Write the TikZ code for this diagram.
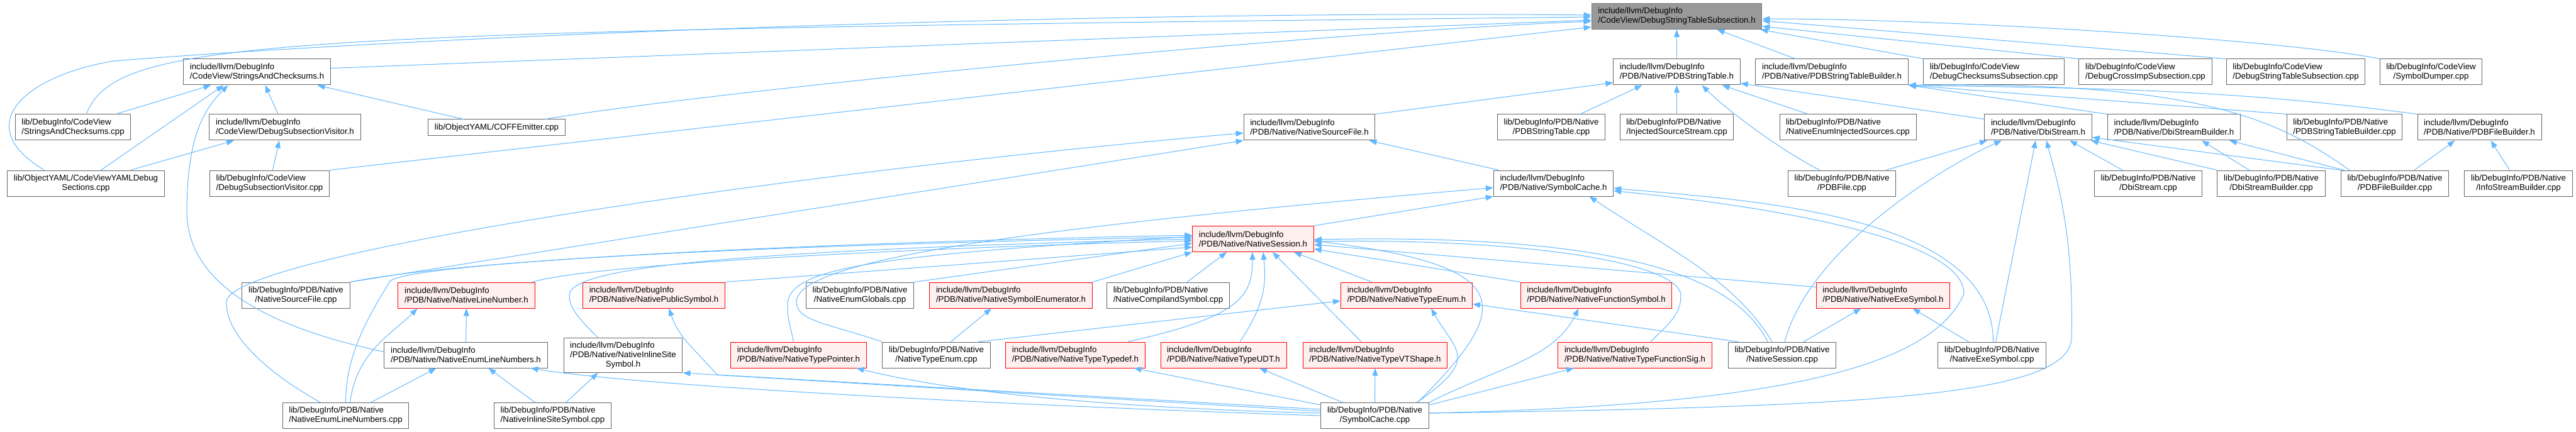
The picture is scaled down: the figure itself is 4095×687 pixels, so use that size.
\documentclass[tikz,border=0pt]{standalone}
\usepackage{fontspec}
\setmainfont{Liberation Sans}
\usepackage{xcolor}
\usepackage{tikz}
\usetikzlibrary{arrows.meta}
\definecolor{edgeblue}{RGB}{99,184,255}
\definecolor{framegray}{RGB}{102,102,102}
\definecolor{rootgray}{RGB}{153,153,153}
\definecolor{truncred}{RGB}{255,0,0}
\definecolor{truncfill}{RGB}{255,240,240}
\newsavebox\flabA
\newsavebox\flabB
\newcommand\flab[2]{\sbox\flabA{#1}\sbox\flabB{#2}\ifdim\wd\flabA<\wd\flabB\makebox[\wd\flabB][l]{#1}\else#1\fi\\#2}

\begin{document}
\begin{tikzpicture}[x=1pt, y=1pt, every node/.style={font=\fontsize{13.3}{15}\selectfont}]
  \tikzstyle{file}=[rectangle, draw=framegray, fill=white, line width=1pt, inner xsep=10.2pt, inner ysep=6.3pt, minimum height=41pt, align=center]
  \tikzstyle{trunc}=[file, draw=truncred, fill=truncfill]
  \tikzstyle{root}=[file, fill=rootgray, draw=rootgray!80!black]
  \tikzstyle{incl}=[draw=edgeblue, line width=1pt, -{Triangle[length=12pt,width=9pt]}]
  \useasboundingbox (0,0) rectangle (4095,-687);

  \node[root] (top) at (2665.5,-26) {\flab{include/llvm/DebugInfo}{/CodeView/DebugStringTableSubsection.h}};

  \node[file] (sach) at (408.5,-114.5) {\flab{include/llvm/DebugInfo}{/CodeView/StringsAndChecksums.h}};
  \node[file] (pst) at (2665.5,-114.5) {\flab{include/llvm/DebugInfo}{/PDB/Native/PDBStringTable.h}};
  \node[file] (pstb) at (2912,-114.5) {\flab{include/llvm/DebugInfo}{/PDB/Native/PDBStringTableBuilder.h}};
  \node[file] (dcs) at (3169.5,-114.5) {\flab{lib/DebugInfo/CodeView}{/DebugChecksumsSubsection.cpp}};
  \node[file] (dcis) at (3410.5,-114.5) {\flab{lib/DebugInfo/CodeView}{/DebugCrossImpSubsection.cpp}};
  \node[file] (dsts) at (3649.5,-114.5) {\flab{lib/DebugInfo/CodeView}{/DebugStringTableSubsection.cpp}};
  \node[file] (symdump) at (3864.5,-114.5) {\flab{lib/DebugInfo/CodeView}{/SymbolDumper.cpp}};

  \node[file] (saccpp) at (116,-202.5) {\flab{lib/DebugInfo/CodeView}{/StringsAndChecksums.cpp}};
  \node[file] (dsvh) at (453,-202.5) {\flab{include/llvm/DebugInfo}{/CodeView/DebugSubsectionVisitor.h}};
  \node[file, minimum height=26pt] (coff) at (789.5,-203) {lib/ObjectYAML/COFFEmitter.cpp};
  \node[file] (nsfh) at (2081.5,-202.5) {\flab{include/llvm/DebugInfo}{/PDB/Native/NativeSourceFile.h}};
  \node[file] (pstcpp) at (2466,-202.5) {\flab{lib/DebugInfo/PDB/Native}{/PDBStringTable.cpp}};
  \node[file] (iss) at (2665.5,-202.5) {\flab{lib/DebugInfo/PDB/Native}{/InjectedSourceStream.cpp}};
  \node[file] (neis) at (2937.5,-202.5) {\flab{lib/DebugInfo/PDB/Native}{/NativeEnumInjectedSources.cpp}};
  \node[file] (dbih) at (3240,-202.5) {\flab{include/llvm/DebugInfo}{/PDB/Native/DbiStream.h}};
  \node[file] (dbibh) at (3456,-202.5) {\flab{include/llvm/DebugInfo}{/PDB/Native/DbiStreamBuilder.h}};
  \node[file] (pstbcpp) at (3727,-202.5) {\flab{lib/DebugInfo/PDB/Native}{/PDBStringTableBuilder.cpp}};
  \node[file] (pfbh) at (3941.5,-202.5) {\flab{include/llvm/DebugInfo}{/PDB/Native/PDBFileBuilder.h}};

  \node[file] (cvyaml) at (136.5,-291.5) {\flab{lib/ObjectYAML/CodeViewYAMLDebug}{Sections.cpp}};
  \node[file] (dsvcpp) at (428.5,-291.5) {\flab{lib/DebugInfo/CodeView}{/DebugSubsectionVisitor.cpp}};
  \node[file] (symch) at (2469.5,-291.5) {\flab{include/llvm/DebugInfo}{/PDB/Native/SymbolCache.h}};
  \node[file] (pdbfile) at (2928,-291.5) {\flab{lib/DebugInfo/PDB/Native}{/PDBFile.cpp}};
  \node[file] (dbicpp) at (3415,-291.5) {\flab{lib/DebugInfo/PDB/Native}{/DbiStream.cpp}};
  \node[file] (dbibcpp) at (3610.5,-291.5) {\flab{lib/DebugInfo/PDB/Native}{/DbiStreamBuilder.cpp}};
  \node[file] (pfbcpp) at (3807,-291.5) {\flab{lib/DebugInfo/PDB/Native}{/PDBFileBuilder.cpp}};
  \node[file] (isbcpp) at (4003.5,-291.5) {\flab{lib/DebugInfo/PDB/Native}{/InfoStreamBuilder.cpp}};

  \node[trunc] (nsessh) at (1992,-380) {\flab{include/llvm/DebugInfo}{/PDB/Native/NativeSession.h}};

  \node[file] (nsfcpp) at (470.5,-469.5) {\flab{lib/DebugInfo/PDB/Native}{/NativeSourceFile.cpp}};
  \node[trunc] (nlnh) at (741.5,-469.5) {\flab{include/llvm/DebugInfo}{/PDB/Native/NativeLineNumber.h}};
  \node[trunc] (npsh) at (1039.5,-469.5) {\flab{include/llvm/DebugInfo}{/PDB/Native/NativePublicSymbol.h}};
  \node[file] (negcpp) at (1367,-469.5) {\flab{lib/DebugInfo/PDB/Native}{/NativeEnumGlobals.cpp}};
  \node[trunc] (nseh) at (1607,-469.5) {\flab{include/llvm/DebugInfo}{/PDB/Native/NativeSymbolEnumerator.h}};
  \node[file] (ncscpp) at (1857,-469.5) {\flab{lib/DebugInfo/PDB/Native}{/NativeCompilandSymbol.cpp}};
  \node[trunc] (nteh) at (2236,-469.5) {\flab{include/llvm/DebugInfo}{/PDB/Native/NativeTypeEnum.h}};
  \node[trunc] (nfsh) at (2537.5,-469.5) {\flab{include/llvm/DebugInfo}{/PDB/Native/NativeFunctionSymbol.h}};
  \node[trunc] (nexeh) at (2993.5,-469.5) {\flab{include/llvm/DebugInfo}{/PDB/Native/NativeExeSymbol.h}};

  \node[file] (nelnh) at (740.5,-564.5) {\flab{include/llvm/DebugInfo}{/PDB/Native/NativeEnumLineNumbers.h}};
  \node[file] (nissh) at (990.5,-565) {\rlap{include/llvm/DebugInfo}\phantom{/PDB/Native/NativeInlineSite}\\/PDB/Native/NativeInlineSite\\Symbol.h};
  \node[trunc] (ntph) at (1269.5,-564.5) {\flab{include/llvm/DebugInfo}{/PDB/Native/NativeTypePointer.h}};
  \node[file] (ntecpp) at (1488.5,-564.5) {\flab{lib/DebugInfo/PDB/Native}{/NativeTypeEnum.cpp}};
  \node[trunc] (nttdh) at (1709.5,-564.5) {\flab{include/llvm/DebugInfo}{/PDB/Native/NativeTypeTypedef.h}};
  \node[trunc] (nudth) at (1945,-564.5) {\flab{include/llvm/DebugInfo}{/PDB/Native/NativeTypeUDT.h}};
  \node[trunc] (nvtsh) at (2186,-564.5) {\flab{include/llvm/DebugInfo}{/PDB/Native/NativeTypeVTShape.h}};
  \node[trunc] (nfsigh) at (2599,-564.5) {\flab{include/llvm/DebugInfo}{/PDB/Native/NativeTypeFunctionSig.h}};
  \node[file] (nsesscpp) at (2833,-564.5) {\flab{lib/DebugInfo/PDB/Native}{/NativeSession.cpp}};
  \node[file] (nexecpp) at (3166.5,-564.5) {\flab{lib/DebugInfo/PDB/Native}{/NativeExeSymbol.cpp}};

  \node[file] (nelncpp) at (549.5,-661) {\flab{lib/DebugInfo/PDB/Native}{/NativeEnumLineNumbers.cpp}};
  \node[file] (nisscpp) at (878.5,-661) {\flab{lib/DebugInfo/PDB/Native}{/NativeInlineSiteSymbol.cpp}};
  \node[file] (symccpp) at (2185.5,-661) {\flab{lib/DebugInfo/PDB/Native}{/SymbolCache.cpp}};

  \coordinate (wCV) at (181,-97);
  \coordinate (wNL) at (297,-340);
  \coordinate (wNE) at (360,-480);
  \coordinate (wEL) at (620,-447);
  \coordinate (wIS) at (905,-470);
  \coordinate (wTP) at (1252,-485);
  \coordinate (wTE) at (1266,-480);
  \coordinate (wPS) at (1140,-596);
  \coordinate (wFS) at (2672,-470);
  \coordinate (wSCa) at (3293,-540);
  \coordinate (wSCb) at (3122,-467);

  \draw[incl] ([xshift=-66pt]cvyaml.north) .. controls +(-120,71) and +(-141,-23) .. (wCV) .. controls +(500,40) and +(-800,8) .. ([yshift=2pt]top.west);
  \draw[incl] ([xshift=21pt]saccpp.north) .. controls +(50,120) and +(-2131,-23) .. ([yshift=-1pt]top.west);
  \draw[incl] ([yshift=6pt]sach.east) -- ([yshift=-6pt]top.west);
  \draw[incl] ([xshift=77pt]coff.north) .. controls +(300,50) and +(-400,-15) .. ([yshift=-8pt]top.west);
  \draw[incl] (dsvcpp.north east) -- ([yshift=-17pt]top.west);
  \draw[incl] (pst.north) -- (top.south);
  \draw[incl] ([xshift=-58pt]pstb.north) -- ([xshift=64pt]top.south);
  \draw[incl] (dcs.north west) -- ([xshift=-3pt]top.south east);
  \draw[incl] (dcis.north west) -- ([yshift=-16pt]top.east);
  \draw[incl] (dsts.north west) -- ([yshift=-7pt]top.east);
  \draw[incl] (symdump.north west) .. controls +(-150,30) and +(300,0) .. ([yshift=-4pt]top.east);

  \draw[incl] ([xshift=68pt]saccpp.north) -- ([xshift=-73pt]sach.south);
  \draw[incl] ([xshift=24pt]cvyaml.north) -- ([xshift=-53pt]sach.south);
  \draw[incl] ([yshift=5pt]nelnh.west) .. controls +(-190,40) and +(3,-110) .. (wNL) .. controls +(0,120) and +(-40,-40) .. ([xshift=-46pt]sach.south);
  \draw[incl] ([xshift=-11pt]dsvh.north) -- ([xshift=13pt]sach.south);
  \draw[incl] ([xshift=-53pt]coff.north) -- ([xshift=96pt]sach.south);
  \draw[incl] ([xshift=71pt]cvyaml.north) -- ([xshift=-81pt]dsvh.south);
  \draw[incl] ([xshift=5pt]dsvcpp.north) -- ([xshift=-9pt]dsvh.south);

  \draw[incl] (nsfh.north east) -- ([yshift=-17pt]pst.west);
  \draw[incl] ([xshift=46pt]pstcpp.north) -- ([xshift=-55pt]pst.south);
  \draw[incl] (iss.north) -- (pst.south);
  \draw[incl] ([xshift=-35pt]pdbfile.north) .. controls +(-60,30) and +(40,-40) .. ([xshift=40pt]pst.south);
  \draw[incl] ([xshift=-63pt]neis.north) -- ([xshift=72pt]pst.south);
  \draw[incl] ([yshift=-8pt]dbih.north west) -- ([yshift=-18pt]pst.east);

  \draw[incl] (pstbcpp.north west) -- (pstb.south east);
  \draw[incl] (pfbh.north west) .. controls +(-300,40) and +(300,-5) .. (pstb.south east);
  \draw[incl] (dbibh.north west) -- (pstb.south east);
  \draw[incl] ([xshift=-72pt]pfbcpp.north) .. controls +(-115,81) and +(465,6) .. (pstb.south east);

  \draw[incl] ([xshift=-41pt]dbicpp.north) -- ([xshift=50pt]dbih.south);
  \draw[incl] (dbibcpp.north west) -- ([xshift=-2pt]dbih.south east);
  \draw[incl] (pfbcpp.north west) -- ([yshift=-16pt]dbih.east);
  \draw[incl] ([xshift=70pt]pdbfile.north) -- ([xshift=-81pt]dbih.south);
  \draw[incl] ([xshift=4pt]nsesscpp.north) .. controls +(40,150) and +(-90,-40) .. ([xshift=-58pt]dbih.south);
  \draw[incl] ([xshift=6pt]nexecpp.north) -- ([xshift=-4pt]dbih.south);
  \draw[incl] ([yshift=4pt]symccpp.east) .. controls +(700,10) and +(-10,-90) .. (wSCa) .. controls +(3,150) and +(25,-90) .. ([xshift=13pt]dbih.south);

  \draw[incl] ([xshift=-35pt]dbibcpp.north) -- ([xshift=44pt]dbibh.south);
  \draw[incl] ([xshift=5pt]pfbcpp.north west) -- ([xshift=88pt]dbibh.south);
  \draw[incl] ([xshift=31pt]pfbcpp.north) -- ([xshift=-39pt]pfbh.south);
  \draw[incl] ([xshift=-14pt]isbcpp.north) -- ([xshift=18pt]pfbh.south);

  \draw[incl] ([xshift=-87pt]symch.north) -- ([xshift=95pt]nsfh.south);
  \draw[incl] (nsessh.north east) -- (symch.south west);
  \draw[incl] (ntecpp.north west) .. controls +(-90,30) and +(0,-30) .. (wTE) .. controls +(0,70) and +(-700,-60) .. ([yshift=-7pt]symch.west);
  \draw[incl] ([xshift=-16pt]nsesscpp.north) .. controls +(-60,100) and +(120,-80) .. ([xshift=57pt]symch.south);
  \draw[incl] ([xshift=2pt]nexecpp.north) .. controls +(0,200) and +(234,-20) .. ([yshift=-8pt]symch.east);
  \draw[incl] ([yshift=4pt]symccpp.east) .. controls +(528,12) and +(-52,-123) .. (wSCb) .. controls +(0,80) and +(300,-30) .. ([yshift=-12pt]symch.east);

  \draw[incl] ([xshift=-40pt]nelncpp.north) .. controls +(-89.5,50) and +(-2,-50) .. (wNE) .. controls +(0,70) and +(-800,-70) .. ([yshift=-9pt]nsfh.west);
  \draw[incl] (nsfcpp.north east) -- (nsfh.south west);

  \draw[incl] (nsfcpp.north east) .. controls +(200,40) and +(-500,-10) .. ([yshift=6pt]nsessh.west);
  \draw[incl] (nelncpp.north) .. controls +(0,80) and +(-30,-50) .. (wEL) .. controls +(30,25) and +(-800,-15) .. ([yshift=3pt]nsessh.west);
  \draw[incl] ([xshift=-40pt]nissh.north) .. controls +(-30,30) and +(0,-20) .. (wIS) .. controls +(0,40) and +(-800,-20) .. (nsessh.west);
  \draw[incl] ([xshift=-4pt]nlnh.north east) .. controls +(100,30) and +(-400,-10) .. ([yshift=-3pt]nsessh.west);
  \draw[incl] (npsh.north east) -- ([yshift=-13pt]nsessh.west);
  \draw[incl] (negcpp.north east) -- ([yshift=-7pt]nsessh.west);
  \draw[incl] ([xshift=-8pt]ntph.north) .. controls +(-5,25) and +(0,-25) .. (wTP) .. controls +(0,60) and +(-500,-30) .. ([yshift=4pt]nsessh.west);
  \draw[incl] (nseh.north east) -- (nsessh.south west);
  \draw[incl] ([xshift=30pt]ncscpp.north) -- ([xshift=-42pt]nsessh.south);
  \draw[incl] ([xshift=-28pt]nttdh.north east) .. controls +(180,40) and +(0,-70) .. ([xshift=-1pt]nsessh.south);
  \draw[incl] ([xshift=26pt]nudth.north) .. controls +(40,60) and +(5,-50) .. ([xshift=16pt]nsessh.south);
  \draw[incl] ([xshift=-22pt]nvtsh.north) -- ([xshift=31pt]nsessh.south);
  \draw[incl] ([xshift=-55pt]nteh.north) -- ([xshift=65pt]nsessh.south);
  \draw[incl] (nfsh.north west) -- ([yshift=-16pt]nsessh.east);
  \draw[incl] ([yshift=-8pt]nexeh.north west) -- ([yshift=-9pt]nsessh.east);
  \draw[incl] ([xshift=25pt]nfsigh.north) .. controls +(30,30) and +(0,-30) .. (wFS) .. controls +(0,50) and +(350,5) .. ([yshift=-4pt]nsessh.east);
  \draw[incl] ([xshift=-23pt]nsesscpp.north) .. controls +(-50,100) and +(500,10) .. ([yshift=-1pt]nsessh.east);
  \draw[incl] ([xshift=-18pt]symccpp.north east) .. controls +(150,150) and +(330,-40) .. ([yshift=-3pt]nsessh.east);

  \draw[incl] ([xshift=67pt]ntecpp.north) -- ([yshift=-9pt]nteh.west);
  \draw[incl] ([xshift=67pt]symccpp.north) .. controls +(100,70) and +(40,-70) .. ([xshift=39pt]nteh.south);
  \draw[incl] ([xshift=-70pt]nsesscpp.north) -- ([yshift=-14pt]nteh.east);
  \draw[incl] (symccpp.north east) .. controls +(120,60) and +(-40,-80) .. ([xshift=-28pt]nfsh.south);
  \draw[incl] ([yshift=-4pt]symccpp.north east) -- ([xshift=-97pt]nfsigh.south);
  \draw[incl] (symccpp.north) -- (nvtsh.south);
  \draw[incl] ([xshift=-51pt]symccpp.north) -- ([xshift=57pt]nudth.south);
  \draw[incl] ([yshift=-4pt]symccpp.north west) -- ([xshift=93pt]nttdh.south);
  \draw[incl] ([yshift=4pt]symccpp.west) .. controls +(-400,10) and +(120,-30) .. ([xshift=92pt]ntph.south);
  \draw[incl] ([yshift=10pt]symccpp.west) -- (wPS) .. controls +(-40,45) and +(15,-45) .. ([xshift=24pt]npsh.south);
  \draw[incl] ([yshift=7pt]symccpp.west) -- (nissh.south east);
  \draw[incl] (symccpp.west) .. controls +(-600,20) and +(150,-25) .. ([xshift=103pt]nelnh.south);

  \draw[incl] ([xshift=21pt]nisscpp.north) -- ([xshift=-40pt]nissh.south);
  \draw[incl] ([xshift=40pt]nelncpp.north) -- ([xshift=-47pt]nelnh.south);
  \draw[incl] ([xshift=-28pt]nisscpp.north) -- ([xshift=36pt]nelnh.south);
  \draw[incl] ([xshift=7pt]nelncpp.north) .. controls +(10,80) and +(-40,-40) .. ([xshift=-78pt]nlnh.south);
  \draw[incl] (nelnh.north) -- (nlnh.south);
  \draw[incl] ([xshift=23pt]ntecpp.north) -- ([xshift=-31pt]nseh.south);
  \draw[incl] ([xshift=34pt]nsesscpp.north) -- ([xshift=-35pt]nexeh.south);
  \draw[incl] ([xshift=-37pt]nexecpp.north) -- ([xshift=47pt]nexeh.south);
\end{tikzpicture}
\end{document}
